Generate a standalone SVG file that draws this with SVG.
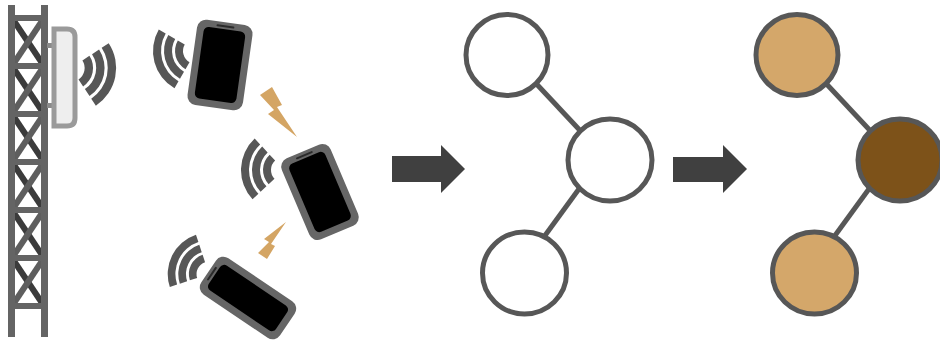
<svg xmlns="http://www.w3.org/2000/svg" xmlns:xlink="http://www.w3.org/1999/xlink" width="940" height="346" viewBox="0 0 940 346">
  <style>
    .leg { fill: #646464; }
    .diag-a { stroke: #3b3b3b; stroke-width: 6; }
    .diag-b { stroke: #5e5e5e; stroke-width: 6; }
    .signal { fill: #575757; }
    .frame { fill: #666666; }
    .screen { fill: #000000; }
    .speaker { fill: #2a2a2a; }
    .bolt { fill: #D4A564; }
    .arrow { fill: #404040; }
    .node { stroke: #575757; stroke-width: 5; }
    .plain { fill: #ffffff; }
    .light { fill: #D4A76A; }
    .dark { fill: #7D5219; }
    .edge { stroke: #575757; stroke-width: 5; fill: none; }
  </style>
  <defs>
    <!-- three concentric bands, opening toward +x, centred on the origin -->
    <g id="signal-waves" class="signal">
      <path d="M24.75,-24.75 L30.41,-30.41 A43,43 0 0 1 30.41,30.41 L24.75,24.75 A35,35 0 0 0 24.75,-24.75 Z"/>
      <path d="M16.97,-16.97 L22.63,-22.63 A32,32 0 0 1 22.63,22.63 L16.97,16.97 A24,24 0 0 0 16.97,-16.97 Z"/>
      <path d="M9.19,-9.19 L14.85,-14.85 A21,21 0 0 1 14.85,14.85 L9.19,9.19 A13,13 0 0 0 9.19,-9.19 Z"/>
    </g>
  </defs>

  <!-- lattice tower -->
  <g id="tower">
    <g id="tower-bracing">
      <line class="diag-a" x1="12" y1="18" x2="44" y2="66"/><line class="diag-b" x1="44" y1="18" x2="12" y2="66"/>
      <line class="diag-a" x1="12" y1="66" x2="44" y2="114"/><line class="diag-b" x1="44" y1="66" x2="12" y2="114"/>
      <line class="diag-a" x1="12" y1="114" x2="44" y2="162"/><line class="diag-b" x1="44" y1="114" x2="12" y2="162"/>
      <line class="diag-a" x1="12" y1="162" x2="44" y2="210"/><line class="diag-b" x1="44" y1="162" x2="12" y2="210"/>
      <line class="diag-a" x1="12" y1="210" x2="44" y2="258"/><line class="diag-b" x1="44" y1="210" x2="12" y2="258"/>
      <line class="diag-a" x1="12" y1="258" x2="44" y2="306"/><line class="diag-b" x1="44" y1="258" x2="12" y2="306"/>
    </g>
    <rect class="leg" x="8" y="5" width="7" height="332"/>
    <rect class="leg" x="41" y="5" width="7" height="332"/>
    <rect class="leg" x="8" y="15" width="40" height="6"/>
    <rect class="leg" x="8" y="63" width="40" height="6"/>
    <rect class="leg" x="8" y="111" width="40" height="6"/>
    <rect class="leg" x="8" y="159" width="40" height="6"/>
    <rect class="leg" x="8" y="207" width="40" height="6"/>
    <rect class="leg" x="8" y="255" width="40" height="6"/>
    <rect class="leg" x="8" y="303" width="40" height="6"/>
  </g>

  <!-- panel antenna on the tower -->
  <g id="antenna">
    <rect x="47" y="43" width="7" height="5" fill="#8a8a8a"/>
    <rect x="47" y="103" width="7" height="5" fill="#8a8a8a"/>
    <path d="M54,29 H67 Q75,29 75,37 V118 Q75,126 67,126 H54 Z" fill="#eeeeee" stroke="#9a9a9a" stroke-width="5"/>
    <use xlink:href="#signal-waves" transform="translate(71,68) rotate(11.6) scale(1.05)"/>
  </g>

  <!-- handsets -->
  <g id="phone-1">
    <use xlink:href="#signal-waves" transform="translate(196,51) rotate(165)"/>
    <g transform="translate(220,65) rotate(8)">
      <rect class="frame" x="-28" y="-43" width="56" height="86" rx="9"/>
      <rect class="screen" x="-21" y="-36" width="42" height="72" rx="5"/>
      <rect class="speaker" x="-9" y="-40" width="18" height="2" rx="1"/>
    </g>
  </g>

  <g id="phone-2">
    <use xlink:href="#signal-waves" transform="translate(284,170) rotate(182)"/>
    <g transform="translate(320,192) rotate(-23)">
      <rect class="frame" x="-26.5" y="-44" width="53" height="88" rx="9"/>
      <rect class="screen" x="-19.5" y="-37" width="39" height="74" rx="5"/>
      <rect class="speaker" x="-9" y="-41" width="18" height="2" rx="1"/>
    </g>
  </g>

  <g id="phone-3">
    <use xlink:href="#signal-waves" transform="translate(209,274) rotate(206.6) scale(0.96)"/>
    <g transform="translate(248,298) rotate(-56)">
      <rect class="frame" x="-22" y="-47.5" width="44" height="95" rx="9"/>
      <rect class="screen" x="-15" y="-40.5" width="30" height="81" rx="5"/>
      <rect class="speaker" x="-8" y="-44.5" width="16" height="2" rx="1"/>
    </g>
  </g>

  <!-- interference bolts between handsets -->
  <g id="bolt-1">
    <polygon class="bolt" points="260,95 272,87 282,105 277,107 297,137 268,114 274,110"/>
  </g>
  <g id="bolt-2">
    <polygon class="bolt" points="258,253 267,259 275,246 271,244 286,222 264,239 269,242"/>
  </g>

  <!-- step arrows -->
  <g id="arrow-1">
    <polygon class="arrow" points="392,156 441,156 441,145 465,169 441,193 441,182 392,182"/>
  </g>
  <g id="arrow-2">
    <polygon class="arrow" points="673,157 723,157 723,145 747,169 723,193 723,182 673,182"/>
  </g>

  <!-- graph edges -->
  <g id="edges">
    <line class="edge" x1="530" y1="77" x2="588" y2="139"/>
    <line class="edge" x1="584" y1="182" x2="541" y2="241"/>
    <line class="edge" x1="820" y1="77" x2="878" y2="139"/>
    <line class="edge" x1="874" y1="182" x2="831" y2="241"/>
  </g>

  <!-- uncoloured graph -->
  <g id="g1-top"><ellipse class="node plain" cx="507" cy="55" rx="41" ry="40.5"/></g>
  <g id="g1-mid"><ellipse class="node plain" cx="610" cy="160" rx="42" ry="41"/></g>
  <g id="g1-bot"><ellipse class="node plain" cx="524.5" cy="273" rx="42" ry="41"/></g>

  <!-- coloured graph -->
  <g id="g2-top"><ellipse class="node light" cx="797" cy="55" rx="41" ry="40.5"/></g>
  <g id="g2-mid"><ellipse class="node dark" cx="900" cy="160" rx="42" ry="41"/></g>
  <g id="g2-bot"><ellipse class="node light" cx="814.5" cy="273" rx="42" ry="41"/></g>
</svg>
